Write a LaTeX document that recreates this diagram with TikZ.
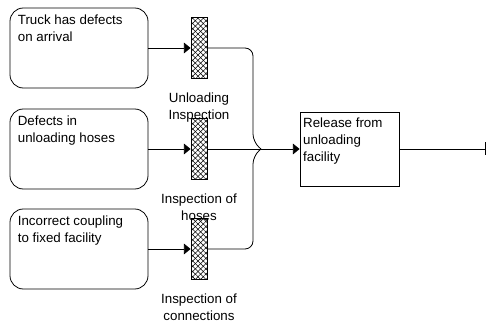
\documentclass[tikz,border=0pt]{standalone}
\usepackage{fontspec}
\setmainfont{Liberation Sans}
\usetikzlibrary{positioning,arrows.meta,patterns.meta}

\tikzset{
  cause/.style={draw, rounded corners=10pt, minimum width=103.5pt, minimum height=60pt, inner sep=0pt},
  barrier/.style={draw, minimum width=12pt, minimum height=45.75pt, inner sep=0pt,
    preaction={fill=white},
    preaction={pattern={Lines[angle=45,distance=2.8pt,line width=0.4pt]}},
    preaction={pattern={Lines[angle=-45,distance=2.8pt,line width=0.4pt]}}},
  event/.style={draw, minimum width=74.25pt, minimum height=55.5pt, inner sep=0pt},
  boxtext/.style={anchor=north west, inner sep=0pt, align=left, font=\fontsize{10}{12.75}\selectfont},
  bartext/.style={inner sep=0pt, align=center, font=\fontsize{10}{12.75}\selectfont},
  link/.style={line width=0.6pt},
  flow/.style={link, -{Triangle[length=5pt,width=8pt]}}
}

\begin{document}
\begin{tikzpicture}[x=0.75pt,y=0.75pt,yscale=-1,xscale=1]
        \useasboundingbox (0,0) rectangle (486,327);

        %Shape: Rounded Rect [id:cause1]
        \node [cause, line width=0.6pt] (truck) at (79,48) {};
        %Shape: Rounded Rect [id:cause2]
        \node [cause, line width=0.6pt] (hoses) at (79,149) {};
        %Shape: Rounded Rect [id:cause3]
        \node [cause, line width=0.6pt] (coupling) at (79,249) {};

        %Shape: Rectangle [id:barrier1]
        \node [barrier, line width=0.6pt] (unload) at (199,48) {};
        %Shape: Rectangle [id:barrier2]
        \node [barrier, line width=0.6pt] (hoseinsp) at (199,149) {};
        %Shape: Rectangle [id:barrier3]
        \node [barrier, line width=0.6pt] (conninsp) at (199,249) {};

        %Shape: Rectangle [id:top event]
        \node [event, line width=0.6pt] (release) at (349.5,149) {};

        % Text Node
        \node [boxtext] at ([xshift=6pt,yshift=5.6pt]truck.north west) {Truck has defects\\on arrival};
        % Text Node
        \node [boxtext] at ([xshift=6pt,yshift=5.6pt]hoses.north west) {Defects in\\unloading hoses};
        % Text Node
        \node [boxtext] at ([xshift=6pt,yshift=5.6pt]coupling.north west) {Incorrect coupling\\to fixed facility};
        % Text Node
        \node [boxtext] at ([xshift=2.5pt,yshift=4.5pt]release.north west) {Release from\\unloading\\facility};

        % Text Node
        \node [bartext, below=10.5pt of unload] (unloadlbl) {Unloading\\Inspection};
        % Text Node
        \node [bartext, below=10.5pt of hoseinsp] (hoselbl) {Inspection of\\hoses};
        % Text Node
        \node [bartext, below=10.5pt of conninsp] (connlbl) {Inspection of\\connections};

        %Straight Lines [id:cause to barrier]
        \draw [flow] (truck.east) -- (unload.west);
        \draw [flow] (hoses.east) -- (hoseinsp.west);
        \draw [flow] (coupling.east) -- (conninsp.west);

        %Connectors [id:merge]
        \coordinate (topbend) at (253,142);
        \coordinate (botbend) at (253,156);
        \coordinate (merge) at (261,149);
        \draw [link, rounded corners=6pt] (unload.east) -| (topbend) [sharp corners] -- (merge);
        \draw [link, rounded corners=6pt] (conninsp.east) -| (botbend) [sharp corners] -- (merge);
        \draw [flow] (hoseinsp.east) -- (release.west);

        %Straight Lines [id:output]
        \coordinate (out) at (485.6,149);
        \draw [link, -{Bar[width=9.75pt]}] (release.east) -- (out);

\end{tikzpicture}
\end{document}
